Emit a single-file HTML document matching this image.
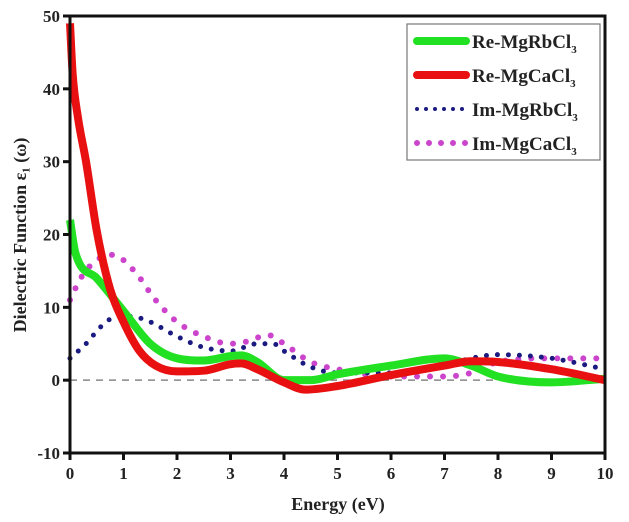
<!DOCTYPE html>
<html><head><meta charset="utf-8"><style>
body{margin:0;background:#fff;}
svg{display:block;font-family:"Liberation Serif",serif;font-weight:bold;}
</style></head><body>
<svg id="chart" width="629" height="522" viewBox="0 0 629 522">
<g id="plot"></g>
</svg>
<script>
const xTicks=[0,1,2,3,4,5,6,7,8,9,10];
const yTicks=[-10,0,10,20,30,40,50];
const reRbX=[0,0.1,0.5,1,1.5,2,2.5,3,3.2,3.5,4,4.5,5,6,7,7.5,8,9,10];
const reRbY=[22,17.5,14,9.5,5,3,2.7,3.3,3.4,2.5,0,0,0.8,2,3,2,0.5,-0.3,0.2];
const reCaX=[0,0.05,0.15,0.3,0.5,0.75,1,1.3,1.6,2,2.5,3,3.2,3.5,4,4.4,5,6,7,7.5,8,9,10];
const reCaY=[49,42,36,30,20.5,12.5,8,4,2,1.2,1.3,2.2,2.3,1.5,-0.3,-1.3,-0.8,0.7,2,2.6,2.5,1.5,0];
const imRbX=[0,0.3,0.6,0.9,1.2,1.5,2,2.5,3,3.5,3.8,4,4.5,5,6,7,7.5,8,9,10];
const imRbY=[3,5,7.5,8.8,8.7,8,6,4.5,4,5,5,4,1.8,1,1,2,3,3.5,3,1.5];
const imCaX=[0,0.2,0.5,0.8,1.2,1.6,2,2.5,3,3.3,3.7,4,4.5,5,6,7,7.5,8,9,10];
const imCaY=[11,14,16.5,17.2,15,11,8,6,5,5.3,6.2,5,2.5,1.5,0.5,0.5,1,2.5,3,3];

const L=70,R=605,T=16,B=453;
const sx=v=>L+(v-0)/10*(R-L);
const sy=v=>B-(v+10)/60*(B-T);
const NS="http://www.w3.org/2000/svg";
const g=document.getElementById('plot');
function mk(t,a,txt){const e=document.createElementNS(NS,t);for(const k in a)e.setAttribute(k,a[k]);if(txt!==undefined)e.textContent=txt;g.appendChild(e);return e;}
// monotone cubic (Fritsch-Carlson) path
function path(xs,ys){
 const n=xs.length,px=xs.map(sx),py=ys.map(sy);
 const d=[],m=new Array(n);
 for(let i=0;i<n-1;i++)d.push((py[i+1]-py[i])/(px[i+1]-px[i]));
 m[0]=d[0];m[n-1]=d[n-2];
 for(let i=1;i<n-1;i++){m[i]=(d[i-1]*d[i]<=0)?0:(d[i-1]+d[i])/2;}
 for(let i=0;i<n-1;i++){
  if(d[i]===0){m[i]=0;m[i+1]=0;continue;}
  const a=m[i]/d[i],b=m[i+1]/d[i],s=a*a+b*b;
  if(s>9){const t=3/Math.sqrt(s);m[i]=t*a*d[i];m[i+1]=t*b*d[i];}
 }
 let p="M"+px[0]+","+py[0];
 for(let i=0;i<n-1;i++){
  const h=(px[i+1]-px[i])/3;
  p+=` C${px[i]+h},${py[i]+m[i]*h} ${px[i+1]-h},${py[i+1]-m[i+1]*h} ${px[i+1]},${py[i+1]}`;
 }
 return p;
}
let z=mk('line',{x1:L,x2:R,y1:sy(0),y2:sy(0),stroke:'#888','stroke-width':1.5,'stroke-dasharray':'7 6'});


let s;
s=mk('path',{d:path(imCaX,imCaY),fill:'none',stroke:'#cc44cc','stroke-width':6,'stroke-linecap':'round','stroke-dasharray':'0 13'});


s=mk('path',{d:path(imRbX,imRbY),fill:'none',stroke:'#1a1a80','stroke-width':5,'stroke-linecap':'round','stroke-dasharray':'0 11'});


s=mk('path',{d:path(reRbX,reRbY),fill:'none',stroke:'#22e022','stroke-width':8,'stroke-linejoin':'round'});


s=mk('path',{d:path(reCaX,reCaY),fill:'none',stroke:'#e81010','stroke-width':8,'stroke-linejoin':'round'});


let f=mk('rect',{x:L,y:T,width:R-L,height:B-T,fill:'none',stroke:'#111','stroke-width':3});


xTicks.forEach(v=>{
 let t=mk('line',{x1:sx(v),x2:sx(v),y1:B,y2:B+7,stroke:'#111','stroke-width':3});
 
 
 let l=mk('text',{x:sx(v),y:B+26,'text-anchor':'middle','font-size':17,fill:'#222'},String(v));
 
 
});
yTicks.forEach(v=>{
 let t=mk('line',{x1:L-7,x2:L,y1:sy(v),y2:sy(v),stroke:'#111','stroke-width':3});
 
 
 let l=mk('text',{x:L-10,y:sy(v)+6,'text-anchor':'end','font-size':17,fill:'#222'},String(v));
 
 
});
let xt=mk('text',{x:338,y:510,'text-anchor':'middle','font-size':18,fill:'#222'},'Energy (eV)');


let yt=mk('text',{x:0,y:0,'text-anchor':'middle','font-size':18,fill:'#222',transform:'translate(26,235) rotate(-90)'},'Dielectric Function ε\u2081 (ω)');


let lb=mk('rect',{x:407,y:24,width:193,height:136,fill:'#fff',stroke:'#777','stroke-width':1.2});


const legNames=['Re-MgRbCl','Re-MgCaCl','Im-MgRbCl','Im-MgCaCl'];
const legStyles=[{stroke:'#22e022','stroke-width':8,'stroke-linecap':'round'},{stroke:'#e81010','stroke-width':8,'stroke-linecap':'round'},{stroke:'#1a1a80','stroke-width':4,'stroke-linecap':'round','stroke-dasharray':'0 9'},{stroke:'#cc44cc','stroke-width':6,'stroke-linecap':'round','stroke-dasharray':'0 12'}];
legNames.forEach((n,i)=>{
 const y=41+i*34;
 let ln=mk('line',Object.assign({x1:417,x2:466,y1:y,y2:y},legStyles[i]));
 
 
 let tx=mk('text',{x:472,y:y+7,'font-size':19,fill:'#222'});
 
 
 tx.innerHTML=n+'<tspan font-size="11" dy="5">3</tspan>';
});
</script>
</body></html>
